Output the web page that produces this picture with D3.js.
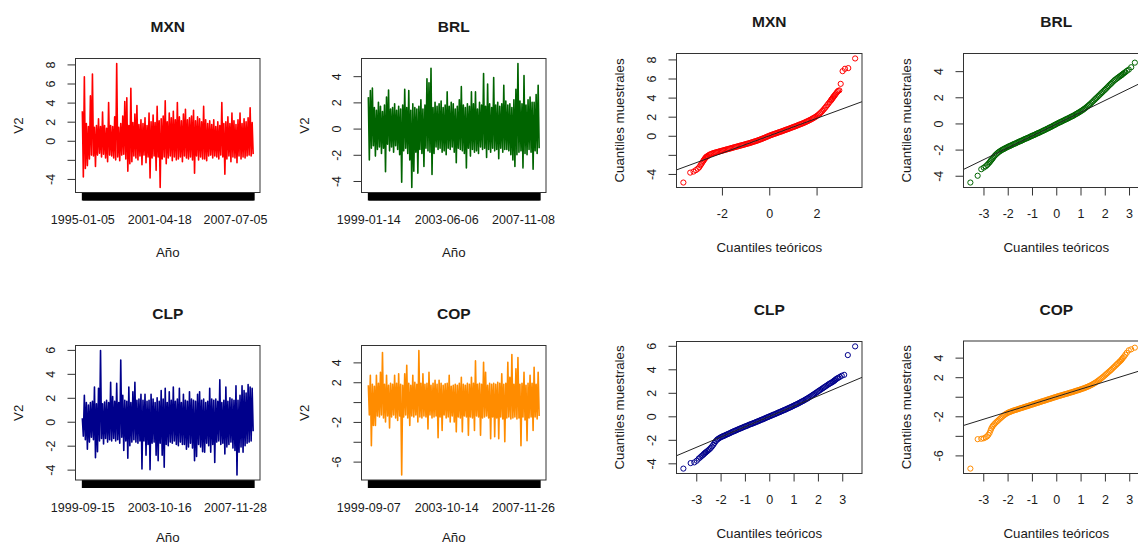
<!DOCTYPE html>
<html>
<head>
<meta charset="utf-8">
<script src="https://cdn.jsdelivr.net/npm/d3@7"></script>
<style>
  body { margin: 0; background: #fff; }
  svg { display: block; font-family: "Liberation Sans", Arial, sans-serif; }
</style>
</head>
<body>
<svg id="chart" width="1138" height="544"></svg>
<script>
// ---------------------------------------------------------------------------
// Daily log-returns (%) of four Latin American currencies vs USD
// ---------------------------------------------------------------------------
const mxnReturns = [
  3.1, -3.8, 6.7, -2.9, 1.8, -2.6, 1.5, -1.9, 4.7, -1.5,
  7.0, -1.6, 1.4, -2.7, 1.6, -1.5, 2.3, -1.3, 1.5, -1.7,
  3.0, -1.4, 1.6, -1.8, 1.3, -2.2, 4.0, -1.5, 1.6, -1.6,
  1.5, -1.8, 2.5, -2.0, 8.1, -1.7, 1.4, -2.1, 1.8, -1.5,
  2.6, -1.4, 4.1, -1.9, 4.5, -3.2, 1.6, -2.4, 5.5, -2.2,
  1.9, -1.6, 2.8, -1.8, 3.7, -2.0, 1.7, -1.6, 2.2, -2.5,
  1.8, -1.5, 2.4, -2.3, 1.6, -1.7, 2.9, -3.9, 2.0, -1.8,
  2.7, -1.6, 1.9, -3.1, 3.6, -1.7, 2.1, -4.9, 2.3, -1.9,
  2.6, -1.7, 4.2, -2.4, 2.0, -1.8, 2.9, -1.6, 2.4, -2.1,
  3.1, -1.7, 2.2, -2.0, 4.0, -1.9, 2.5, -1.7, 2.1, -2.2,
  2.8, -1.6, 3.3, -1.8, 2.2, -1.9, 2.4, -1.7, 2.6, -2.0,
  3.2, -3.4, 2.1, -1.6, 2.5, -2.0, 2.3, -1.7, 2.0, -1.9,
  3.6, -1.9, 2.2, -2.1, 1.8, -1.6, 2.1, -1.5, 1.7, -1.8,
  2.2, -1.6, 1.5, -1.7, 2.0, -1.9, 1.6, -1.5, 4.0, -1.7,
  1.8, -3.5, 2.0, -1.9, 2.5, -1.6, 1.8, -2.2, 2.9, -1.7,
  2.1, -1.8, 1.7, -2.3, 2.2, -1.6, 2.9, -1.9, 1.8, -1.7,
  2.3, -1.8, 2.0, -1.6, 2.4, -1.5, 3.45, -1.6, 1.9, -1.4
];
const brlReturns = [
  2.4, -2.4, 2.9, -1.5, 3.1, -1.3, 1.6, -2.1, 1.4, -1.6,
  2.0, -1.4, 1.7, -1.9, 1.3, -1.5, 1.8, -3.3, 2.4, -1.2,
  2.95, -1.7, 1.5, -1.4, 1.6, -1.8, 1.9, -1.3, 1.4, -1.6,
  1.7, -2.0, 1.5, -4.1, 1.8, -1.7, 3.0, -1.5, 1.6, -1.9,
  2.9, -2.4, 1.4, -4.5, 1.9, -3.25, 1.6, -1.8, 1.5, -3.4,
  1.7, -1.6, 2.2, -1.9, 1.5, -2.9, 1.8, -1.5, 3.8, -1.7,
  3.5, -1.8, 4.6, -3.5, 1.6, -1.9, 2.0, -1.4, 1.7, -1.6,
  1.9, -1.5, 2.1, -1.8, 1.6, -1.7, 1.8, -2.0, 2.8, -1.5,
  1.7, -1.6, 2.0, -1.4, 1.9, -1.8, 1.5, -2.6, 1.7, -1.5,
  2.2, -1.6, 3.2, -1.7, 1.8, -1.9, 1.6, -3.0, 1.9, -1.5,
  1.7, -2.1, 2.8, -1.6, 1.9, -1.8, 2.8, -1.7, 1.5, -1.9,
  2.0, -1.4, 1.8, -1.6, 4.2, -1.5, 1.7, -2.2, 3.4, -1.6,
  1.9, -1.8, 1.6, -1.5, 3.9, -1.7, 1.8, -1.6, 2.0, -2.3,
  1.7, -1.5, 1.9, -1.8, 3.3, -1.6, 2.1, -1.6, 1.8, -1.7,
  1.9, -2.0, 1.6, -2.4, 2.2, -2.9, 3.0, -2.0, 4.97, -1.8,
  2.1, -1.7, 1.9, -3.0, 4.05, -1.9, 1.8, -2.0, 2.2, -1.6,
  2.4, -1.8, 2.0, -3.1, 2.0, -1.7, 2.6, -1.9, 3.3, -1.5
];
const clpReturns = [
  0.3, -1.2, 2.2, -1.5, 1.6, -2.3, 1.4, -1.7, 1.6, -1.3,
  1.7, -1.5, 2.9, -3.0, 1.5, -2.5, 2.8, -1.6, 5.95, -1.4,
  1.5, -1.85, 1.65, -1.4, 1.8, -1.7, 1.6, -1.5, 3.3, -1.6,
  2.1, -1.4, 1.7, -1.6, 3.2, -1.5, 1.6, -1.8, 5.15, -1.3,
  2.2, -2.4, 1.8, -1.6, 1.7, -3.05, 2.9, -2.0, 1.6, -1.7,
  2.5, -1.5, 3.3, -1.7, 1.8, -1.8, 1.9, -1.6, 2.3, -3.95,
  1.8, -1.6, 2.3, -2.8, 1.7, -1.9, 1.8, -4.0, 2.3, -1.8,
  1.9, -1.7, 1.6, -2.8, 2.0, -3.25, 1.7, -1.8, 2.6, -2.8,
  1.9, -3.8, 2.8, -1.9, 1.6, -2.0, 2.5, -1.7, 1.8, -1.8,
  2.9, -1.6, 1.7, -1.9, 1.9, -2.0, 2.8, -1.7, 1.6, -1.9,
  2.3, -1.9, 1.8, -2.3, 1.7, -2.1, 2.5, -1.8, 1.9, -2.2,
  1.8, -3.25, 1.7, -2.9, 2.3, -1.9, 2.5, -2.1, 1.8, -2.5,
  1.9, -2.55, 1.6, -1.8, 1.7, -2.0, 2.8, -2.55, 1.9, -1.9,
  1.8, -3.4, 1.9, -1.7, 1.7, -1.6, 3.5, -1.9, 1.6, -1.8,
  1.8, -2.7, 2.9, -2.1, 1.7, -1.9, 2.0, -1.7, 1.9, -2.2,
  1.8, -2.4, 3.0, -4.45, 1.8, -2.55, 2.2, -2.1, 3.0, -2.55,
  2.6, -2.0, 2.4, -1.8, 3.1, -1.7, 2.9, -1.6, 2.8, -0.8
];
const copReturns = [
  1.7, -1.3, 2.7, -4.4, 1.8, -2.35, 1.6, -2.35, 2.7, -1.4,
  1.9, -1.5, 3.0, -1.3, 5.0, -1.6, 1.8, -2.0, 2.7, -1.4,
  1.7, -2.6, 1.9, -1.5, 1.8, -1.3, 2.7, -1.6, 1.9, -1.85,
  2.85, -1.4, 1.8, -7.35, 1.7, -1.5, 2.85, -1.3, 3.7, -1.6,
  1.9, -2.35, 1.7, -1.4, 2.7, -1.5, 2.0, -1.3, 1.8, -2.0,
  5.2, -1.5, 1.9, -1.6, 2.85, -1.4, 1.8, -1.5, 1.9, -2.7,
  3.0, -1.3, 1.7, -1.6, 1.9, -1.5, 2.2, -1.4, 1.8, -3.6,
  2.2, -1.5, 1.9, -2.85, 1.7, -1.3, 1.85, -1.6, 1.9, -1.5,
  2.7, -2.0, 1.6, -1.4, 1.7, -2.0, 1.8, -3.0, 1.7, -1.5,
  1.9, -1.6, 2.5, -3.0, 1.8, -1.4, 1.7, -1.5, 1.9, -3.35,
  1.8, -1.5, 2.5, -1.6, 1.9, -2.85, 4.15, -1.4, 1.8, -1.5,
  1.9, -3.35, 1.8, -1.6, 4.0, -1.5, 3.0, -1.4, 1.7, -1.6,
  1.9, -3.7, 1.8, -1.5, 1.9, -3.5, 1.8, -1.6, 2.0, -3.7,
  1.9, -1.5, 2.85, -1.7, 1.8, -4.0, 1.9, -1.6, 4.0, -1.5,
  2.5, -1.7, 4.8, -1.6, 1.8, -1.5, 3.35, -1.7, 4.5, -1.6,
  1.8, -4.4, 1.9, -1.5, 3.0, -1.8, 1.7, -3.9, 1.9, -1.6,
  2.7, -1.5, 1.9, -2.85, 3.5, -1.5, 1.8, -1.7, 3.0, -1.4
];

// Observation index of each labelled date on the time axis
const mxnDateIdx = [0, 76, 151];
const mxnDateLabels = ["1995-01-05", "2001-04-18", "2007-07-05"];
const brlDateIdx = [0, 77, 153];
const brlDateLabels = ["1999-01-14", "2003-06-06", "2007-11-08"];
const clpDateIdx = [0, 76, 151];
const clpDateLabels = ["1999-09-15", "2003-10-16", "2007-11-28"];
const copDateIdx = [0, 77, 153];
const copDateLabels = ["1999-09-07", "2003-10-14", "2007-11-26"];

// Vertical ticks (empty label = label dropped by overlap)
const mxnYTicks = [-4, -2, 0, 2, 4, 6, 8];
const mxnYLabels = ["-4", "", "0", "2", "4", "6", "8"];
const brlYTicks = [-4, -2, 0, 2, 4];
const brlYLabels = ["-4", "-2", "0", "2", "4"];
const clpYTicks = [-4, -2, 0, 2, 4, 6];
const clpYLabels = ["-4", "-2", "0", "2", "4", "6"];
const copYTicks = [-6, -4, -2, 0, 2, 4];
const copYLabels = ["-6", "", "-2", "", "2", "4"];

// Normal Q-Q plots: theoretical quantiles of the central body
const qqGrid = [
  -2.60, -2.55, -2.50, -2.45, -2.40, -2.35, -2.30, -2.25, -2.20, -2.15,
  -2.10, -2.05, -2.00, -1.95, -1.90, -1.85, -1.80, -1.75, -1.70, -1.65,
  -1.60, -1.55, -1.50, -1.45, -1.40, -1.35, -1.30, -1.25, -1.20, -1.15,
  -1.10, -1.05, -1.00, -0.95, -0.90, -0.85, -0.80, -0.75, -0.70, -0.65,
  -0.60, -0.55, -0.50, -0.45, -0.40, -0.35, -0.30, -0.25, -0.20, -0.15,
  -0.10, -0.05, 0.00, 0.05, 0.10, 0.15, 0.20, 0.25, 0.30, 0.35,
  0.40, 0.45, 0.50, 0.55, 0.60, 0.65, 0.70, 0.75, 0.80, 0.85,
  0.90, 0.95, 1.00, 1.05, 1.10, 1.15, 1.20, 1.25, 1.30, 1.35,
  1.40, 1.45, 1.50, 1.55, 1.60, 1.65, 1.70, 1.75, 1.80, 1.85,
  1.90, 1.95, 2.00, 2.05, 2.10, 2.15, 2.20, 2.25, 2.30, 2.35,
  2.40, 2.45, 2.50, 2.55, 2.60
];

// Sample quantiles at qqGrid
const mxnQQ = [
  -2.12, -2.02, -1.95, -1.90, -1.85, -1.81, -1.77, -1.74, -1.70, -1.67,
  -1.63, -1.60, -1.57, -1.53, -1.50, -1.46, -1.43, -1.40, -1.36, -1.33,
  -1.29, -1.26, -1.22, -1.19, -1.15, -1.12, -1.09, -1.05, -1.02, -0.99,
  -0.95, -0.92, -0.88, -0.85, -0.81, -0.78, -0.74, -0.70, -0.66, -0.62,
  -0.58, -0.54, -0.50, -0.45, -0.41, -0.36, -0.31, -0.26, -0.21, -0.16,
  -0.11, -0.05, 0.00, 0.05, 0.09, 0.14, 0.18, 0.23, 0.27, 0.31,
  0.36, 0.40, 0.44, 0.49, 0.53, 0.58, 0.62, 0.67, 0.71, 0.76,
  0.81, 0.85, 0.90, 0.95, 0.99, 1.04, 1.09, 1.14, 1.19, 1.24,
  1.29, 1.34, 1.39, 1.45, 1.51, 1.57, 1.63, 1.69, 1.76, 1.83,
  1.90, 1.98, 2.06, 2.15, 2.25, 2.36, 2.48, 2.61, 2.75, 2.90,
  3.05, 3.21, 3.37, 3.53, 3.69
];
const brlQQ = [
  -2.62, -2.50, -2.40, -2.31, -2.23, -2.16, -2.10, -2.04, -1.99, -1.94,
  -1.89, -1.84, -1.80, -1.75, -1.71, -1.67, -1.62, -1.58, -1.54, -1.50,
  -1.45, -1.41, -1.37, -1.33, -1.29, -1.24, -1.20, -1.16, -1.12, -1.08,
  -1.04, -0.99, -0.95, -0.91, -0.87, -0.83, -0.78, -0.74, -0.70, -0.66,
  -0.61, -0.57, -0.52, -0.48, -0.43, -0.39, -0.34, -0.29, -0.25, -0.20,
  -0.15, -0.10, -0.05, 0.00, 0.04, 0.09, 0.13, 0.18, 0.22, 0.27,
  0.31, 0.36, 0.40, 0.45, 0.50, 0.54, 0.59, 0.64, 0.70, 0.75,
  0.81, 0.86, 0.92, 0.98, 1.04, 1.11, 1.18, 1.25, 1.33, 1.41,
  1.49, 1.58, 1.67, 1.76, 1.85, 1.94, 2.03, 2.12, 2.21, 2.30,
  2.39, 2.48, 2.57, 2.66, 2.75, 2.85, 2.94, 3.03, 3.12, 3.21,
  3.30, 3.37, 3.44, 3.51, 3.58
];
const clpQQ = [
  -3.05, -2.97, -2.88, -2.79, -2.68, -2.56, -2.42, -2.27, -2.12, -2.00,
  -1.92, -1.85, -1.79, -1.74, -1.69, -1.65, -1.60, -1.55, -1.51, -1.46,
  -1.41, -1.36, -1.31, -1.27, -1.22, -1.18, -1.13, -1.09, -1.04, -1.00,
  -0.96, -0.91, -0.87, -0.83, -0.79, -0.74, -0.70, -0.66, -0.62, -0.58,
  -0.54, -0.50, -0.45, -0.41, -0.37, -0.32, -0.28, -0.24, -0.19, -0.15,
  -0.10, -0.06, -0.01, 0.03, 0.07, 0.12, 0.16, 0.20, 0.25, 0.29,
  0.34, 0.38, 0.43, 0.47, 0.52, 0.56, 0.61, 0.66, 0.70, 0.75,
  0.80, 0.85, 0.90, 0.95, 1.00, 1.05, 1.10, 1.16, 1.21, 1.27,
  1.32, 1.38, 1.44, 1.50, 1.56, 1.63, 1.69, 1.76, 1.83, 1.90,
  1.97, 2.04, 2.11, 2.18, 2.25, 2.32, 2.39, 2.46, 2.53, 2.60,
  2.67, 2.74, 2.80, 2.86, 2.92
];
const copQQ = [
  -2.95, -2.82, -2.68, -2.56, -2.45, -2.33, -2.22, -2.11, -2.00, -1.90,
  -1.81, -1.73, -1.66, -1.60, -1.55, -1.50, -1.45, -1.41, -1.37, -1.33,
  -1.29, -1.25, -1.21, -1.17, -1.13, -1.09, -1.05, -1.01, -0.97, -0.93,
  -0.89, -0.85, -0.81, -0.77, -0.73, -0.69, -0.65, -0.61, -0.57, -0.53,
  -0.49, -0.45, -0.41, -0.37, -0.33, -0.29, -0.25, -0.21, -0.17, -0.13,
  -0.09, -0.05, -0.01, 0.03, 0.07, 0.10, 0.14, 0.18, 0.21, 0.25,
  0.29, 0.32, 0.36, 0.40, 0.43, 0.47, 0.51, 0.55, 0.59, 0.63,
  0.67, 0.71, 0.75, 0.79, 0.84, 0.88, 0.93, 0.98, 1.03, 1.09,
  1.15, 1.21, 1.28, 1.35, 1.43, 1.51, 1.60, 1.69, 1.78, 1.88,
  1.98, 2.08, 2.19, 2.30, 2.41, 2.52, 2.63, 2.74, 2.86, 2.98,
  3.10, 3.22, 3.34, 3.46, 3.58
];

// Extreme order statistics: [theoretical, sample]
const mxnQQTails = [
  [-3.63, -4.9], [-3.34, -3.86], [-3.2, -3.75], [-3.1, -3.6], [-3.02, -3.45],
  [-2.96, -3.3], [-2.91, -3.1], [-2.87, -2.95], [-2.83, -2.8], [-2.79, -2.65],
  [-2.76, -2.52], [-2.73, -2.42], [-2.7, -2.33], [-2.68, -2.26], [-2.65, -2.2],
  [-2.63, -2.16],
  [2.63, 3.78], [2.65, 3.86], [2.68, 3.95], [2.7, 4.04], [2.73, 4.13],
  [2.76, 4.22], [2.79, 4.32], [2.83, 4.45], [2.87, 4.58], [2.91, 4.7],
  [2.96, 4.76], [3.02, 5.44], [3.1, 6.77], [3.2, 7.02], [3.34, 7.09], [3.63, 8.1]
];
const brlQQTails = [
  [-3.54, -4.52], [-3.24, -4.0], [-3.09, -3.5], [-2.99, -3.38], [-2.91, -3.28],
  [-2.85, -3.18], [-2.8, -3.08], [-2.75, -2.98], [-2.71, -2.88], [-2.68, -2.8],
  [-2.64, -2.72],
  [2.64, 3.63], [2.68, 3.68], [2.71, 3.73], [2.75, 3.79], [2.8, 3.86],
  [2.85, 3.93], [2.91, 4.02], [2.99, 4.12], [3.09, 4.3], [3.24, 4.65], [3.54, 4.97]
];
const clpQQTails = [
  [-3.53, -4.45], [-3.23, -3.98], [-3.08, -3.92], [-2.98, -3.78], [-2.9, -3.6],
  [-2.84, -3.5], [-2.79, -3.4], [-2.74, -3.32], [-2.7, -3.24], [-2.67, -3.17],
  [-2.63, -3.1],
  [2.63, 2.97], [2.67, 3.02], [2.7, 3.08], [2.74, 3.15], [2.79, 3.22],
  [2.84, 3.28], [2.9, 3.35], [2.98, 3.45], [3.08, 3.53], [3.23, 5.21], [3.53, 5.95]
];
const copQQTails = [
  [-3.53, -7.35], [-3.23, -4.34], [-3.08, -4.3], [-2.98, -4.25], [-2.9, -4.15],
  [-2.84, -4.05], [-2.79, -3.9], [-2.74, -3.7], [-2.7, -3.45], [-2.67, -3.25],
  [-2.63, -3.08],
  [2.63, 3.65], [2.67, 3.75], [2.7, 3.85], [2.74, 3.98], [2.79, 4.12],
  [2.84, 4.3], [2.9, 4.5], [2.98, 4.75], [3.08, 4.85], [3.23, 5.02], [3.53, 5.2]
];

// Sample first and third quartiles (reference line of each Q-Q plot)
const mxnQuartiles = [-0.62, 0.61];
const brlQuartiles = [-0.67, 0.55];
const clpQuartiles = [-0.61, 0.57];
const copQuartiles = [-0.52, 0.52];

const mxnQQXTicks = [-2, 0, 2];
const otherQQXTicks = [-3, -2, -1, 0, 1, 2, 3];

// ---------------------------------------------------------------------------
const INK = "#1a1a1a";
const FRAME = "#333";
const FS_TICK = 12.5, FS_LAB = 13.3, FS_TITLE = 15.5;
const Z75 = 0.6744898; // standard normal third quartile

const svg = d3.select("#chart");
svg.append("rect").attr("width", 1138).attr("height", 544).attr("fill", "#fff");

// R-style 4% expansion of a data range
function expand(ext) {
  const r = ext[1] - ext[0];
  return [ext[0] - 0.04 * r, ext[1] + 0.04 * r];
}
const fmt = d => String(d); // plain hyphen minus

function decorate(g, b, title, xTitle, yTitle, xTitleGap) {
  g.append("rect")
    .attr("x", b.x).attr("y", b.y).attr("width", b.w).attr("height", b.h)
    .attr("fill", "none").attr("stroke", FRAME).attr("stroke-width", 1);
  g.append("text")
    .attr("x", b.x + b.w / 2).attr("y", b.y - 32).attr("dy", "0.36em")
    .attr("text-anchor", "middle").attr("font-weight", "bold")
    .attr("font-size", FS_TITLE).attr("fill", INK).text(title);
  g.append("text")
    .attr("x", b.x + b.w / 2).attr("y", b.y + b.h + xTitleGap).attr("dy", "0.36em")
    .attr("text-anchor", "middle").attr("font-size", FS_LAB).attr("fill", INK)
    .text(xTitle);
  g.append("text")
    .attr("transform", `translate(${b.x - 57.5},${b.y + b.h / 2}) rotate(-90)`)
    .attr("dy", "0.36em").attr("text-anchor", "middle")
    .attr("font-size", FS_LAB).attr("fill", INK).text(yTitle);
}

function leftAxis(g, b, y, ticks, labels) {
  const ax = g.append("g").attr("transform", `translate(${b.x},0)`)
    .call(d3.axisLeft(y).tickValues(ticks).tickSize(8).tickSizeOuter(0)
      .tickFormat((d, i) => labels[i]));
  ax.select(".domain").remove();
  ax.selectAll(".tick line").attr("stroke", FRAME);
  ax.selectAll(".tick text")
    .attr("transform", "rotate(-90)").attr("x", 0).attr("y", -25)
    .attr("dy", "0.36em").attr("text-anchor", "middle")
    .attr("font-size", FS_TICK).attr("font-family", null).attr("fill", INK);
}

// ---------------- time-series panels ----------------
const seriesPanels = [
  { title: "MXN", values: mxnReturns, color: "#ff0000", idx: mxnDateIdx, dates: mxnDateLabels,
    yTicks: mxnYTicks, yLabels: mxnYLabels, box: { x: 75.5, y: 58.5, w: 184.5, h: 134 }, gap: 60 },
  { title: "BRL", values: brlReturns, color: "#006400", idx: brlDateIdx, dates: brlDateLabels,
    yTicks: brlYTicks, yLabels: brlYLabels, box: { x: 361.5, y: 58.5, w: 184.5, h: 134 }, gap: 60 },
  { title: "CLP", values: clpReturns, color: "#00008b", idx: clpDateIdx, dates: clpDateLabels,
    yTicks: clpYTicks, yLabels: clpYLabels, box: { x: 75.5, y: 345.5, w: 184.5, h: 134.5 }, gap: 57.5 },
  { title: "COP", values: copReturns, color: "#ff8c00", idx: copDateIdx, dates: copDateLabels,
    yTicks: copYTicks, yLabels: copYLabels, box: { x: 361.5, y: 345.5, w: 184.5, h: 134.5 }, gap: 57.5 }
];

seriesPanels.forEach(p => {
  const b = p.box;
  const n = p.values.length;
  const g = svg.append("g").attr("class", "series-" + p.title);
  const x = d3.scaleLinear().domain(expand([0, n - 1])).range([b.x, b.x + b.w]);
  const y = d3.scaleLinear().domain(expand(d3.extent(p.values))).range([b.y + b.h, b.y]);

  g.append("path").datum(p.values)
    .attr("d", d3.line().x((d, i) => x(i)).y(d => y(d)))
    .attr("fill", "none").attr("stroke", p.color).attr("stroke-width", 1.6)
    .attr("stroke-linejoin", "round");

  // one tick per observation, date labels at a few of them
  const labelAt = new Map(p.idx.map((k, j) => [k, p.dates[j]]));
  const ax = g.append("g").attr("transform", `translate(0,${b.y + b.h})`)
    .call(d3.axisBottom(x).tickValues(d3.range(n)).tickSize(8).tickSizeOuter(0)
      .tickFormat(i => labelAt.get(i) || ""));
  ax.select(".domain").remove();
  ax.selectAll(".tick line").attr("stroke", "#000").attr("stroke-width", 2);
  ax.selectAll(".tick text").attr("y", 27).attr("dy", "0.36em")
    .attr("font-size", FS_TICK).attr("fill", INK);

  leftAxis(g, b, y, p.yTicks, p.yLabels);
  decorate(g, b, p.title, "Año", "V2", p.gap);
});

// ---------------- normal Q-Q panels ----------------
const qqPanels = [
  { title: "MXN", sample: mxnQQ, tails: mxnQQTails, quart: mxnQuartiles, color: "#ff0000",
    xTicks: mxnQQXTicks, yTicks: mxnYTicks, yLabels: mxnYLabels, box: { x: 676.5, y: 53.5, w: 185.5, h: 134 } },
  { title: "BRL", sample: brlQQ, tails: brlQQTails, quart: brlQuartiles, color: "#006400",
    xTicks: otherQQXTicks, yTicks: brlYTicks, yLabels: brlYLabels, box: { x: 963.5, y: 53.5, w: 185.5, h: 134 } },
  { title: "CLP", sample: clpQQ, tails: clpQQTails, quart: clpQuartiles, color: "#00008b",
    xTicks: otherQQXTicks, yTicks: clpYTicks, yLabels: clpYLabels, box: { x: 676.5, y: 341.5, w: 185.5, h: 132 } },
  { title: "COP", sample: copQQ, tails: copQQTails, quart: copQuartiles, color: "#ff8c00",
    xTicks: otherQQXTicks, yTicks: copYTicks, yLabels: copYLabels, box: { x: 963.5, y: 341, w: 185.5, h: 132.5 } }
];

qqPanels.forEach(p => {
  const b = p.box;
  const g = svg.append("g").attr("class", "qq-" + p.title);
  const pts = qqGrid.map((t, i) => [t, p.sample[i]]).concat(p.tails);
  const x = d3.scaleLinear().domain(expand(d3.extent(pts, d => d[0]))).range([b.x, b.x + b.w]);
  const y = d3.scaleLinear().domain(expand(d3.extent(pts, d => d[1]))).range([b.y + b.h, b.y]);

  const clipId = "clip-qq-" + p.title;
  g.append("clipPath").attr("id", clipId).append("rect")
    .attr("x", b.x).attr("y", b.y).attr("width", b.w).attr("height", b.h);

  g.append("g").selectAll("circle").data(pts).join("circle")
    .attr("cx", d => x(d[0])).attr("cy", d => y(d[1])).attr("r", 2.6)
    .attr("fill", "none").attr("stroke", p.color).attr("stroke-width", 1);

  // line through the first and third quartiles
  const slope = (p.quart[1] - p.quart[0]) / (2 * Z75);
  const icpt = p.quart[0] + slope * Z75;
  const xd = x.domain();
  g.append("line").attr("clip-path", `url(#${clipId})`)
    .attr("x1", x(xd[0])).attr("y1", y(icpt + slope * xd[0]))
    .attr("x2", x(xd[1])).attr("y2", y(icpt + slope * xd[1]))
    .attr("stroke", "#222").attr("stroke-width", 1);

  const ax = g.append("g").attr("transform", `translate(0,${b.y + b.h})`)
    .call(d3.axisBottom(x).tickValues(p.xTicks).tickSize(8).tickSizeOuter(0).tickFormat(fmt));
  ax.select(".domain").remove();
  ax.selectAll(".tick line").attr("stroke", FRAME);
  ax.selectAll(".tick text").attr("y", 25.6).attr("dy", "0.36em")
    .attr("font-size", FS_TICK).attr("fill", INK);

  leftAxis(g, b, y, p.yTicks, p.yLabels);
  decorate(g, b, p.title, "Cuantiles teóricos", "Cuantiles muestrales", 59.6);
});
</script>
</body>
</html>
